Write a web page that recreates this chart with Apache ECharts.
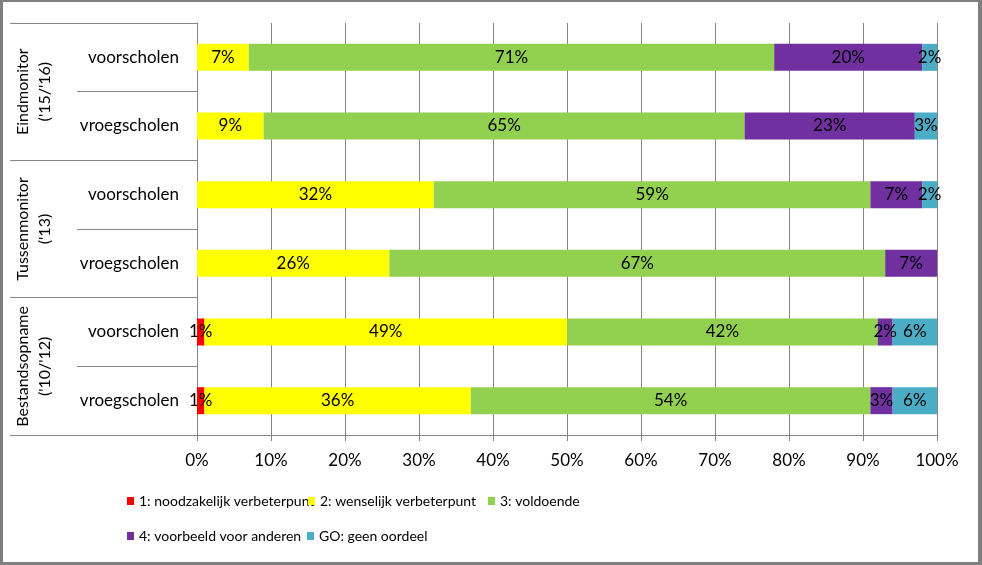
<!DOCTYPE html>
<html><head><meta charset="utf-8">
<script src="https://cdn.jsdelivr.net/npm/echarts@6/dist/echarts.min.js"></script>
<style>
html,body{margin:0;padding:0;background:#fff}
#c{width:982px;height:565px;position:absolute;left:0;top:0}
#b{position:absolute;left:0;top:0;width:982px;height:565px;box-sizing:border-box;border-style:solid;border-color:#7f7f7f;border-width:2px 4px 3px 3px;pointer-events:none}
</style>
</head><body><div id="c"></div><div id="b"></div>
<script>
// ---- data ----
const groups = ["Eindmonitor\n('15/'16)", "Tussenmonitor\n('13)", "Bestandsopname\n('10/'12)"];
const rowLabels = ["voorscholen", "vroegscholen", "voorscholen", "vroegscholen", "voorscholen", "vroegscholen"];
const seriesNames = ["1: noodzakelijk verbeterpunt", "2: wenselijk verbeterpunt", "3: voldoende", "4: voorbeeld voor anderen", "GO: geen oordeel"];
const s1 = [0, 0, 0, 0, 1, 1];
const s2 = [7, 9, 32, 26, 49, 36];
const s3 = [71, 65, 59, 67, 42, 54];
const s4 = [20, 23, 7, 7, 2, 3];
const sGO = [2, 3, 2, 0, 6, 6];
const xTicks = [0, 10, 20, 30, 40, 50, 60, 70, 80, 90, 100];

// ---- style ----
const colors = ['#FF0000', '#FFFF00', '#92D050', '#7030A0', '#4BACC6'];
const FONT = 'Lato';
const GRAY = '#868686';
const legendPos = [[127, 494], [308, 494], [488, 494], [127, 529], [307, 529]];

const seriesData = [s1, s2, s3, s4, sGO];
const chart = echarts.init(document.getElementById('c'), null, {renderer: 'canvas'});

const option = {
  animation: false,
  textStyle: {fontFamily: FONT},
  grid: {left: 197, right: 45, top: 23, bottom: 130, containLabel: false},
  xAxis: {
    type: 'value', min: xTicks[0], max: xTicks[xTicks.length - 1], interval: xTicks[1] - xTicks[0],
    axisLine: {show: true, lineStyle: {color: GRAY}},
    axisTick: {show: true, length: 6, lineStyle: {color: GRAY}},
    splitLine: {show: true, lineStyle: {color: GRAY, width: 1}},
    axisLabel: {formatter: '{value}%', color: '#000', fontSize: 17, fontFamily: FONT, margin: 17}
  },
  yAxis: [
    {
      type: 'category', inverse: true, position: 'left',
      data: rowLabels.map((r, i) => i + '|' + r),
      axisLine: {show: true, lineStyle: {color: GRAY}},
      axisTick: {show: true, length: 120, lineStyle: {color: GRAY}},
      axisLabel: {interval: 0, formatter: v => v.split('|')[1], color: '#000', fontSize: 17, fontFamily: FONT, margin: 18}
    },
    {
      type: 'category', inverse: true, position: 'left', offset: 0,
      data: groups,
      axisLine: {show: false},
      axisTick: {show: true, interval: 0, length: 187, lineStyle: {color: GRAY}},
      axisLabel: {interval: 0, hideOverlap: false, rotate: 90, color: '#000', fontSize: 16, fontFamily: FONT, lineHeight: 22, margin: 141}
    }
  ],
  legend: seriesNames.map((n, i) => ({
    data: [n], left: legendPos[i][0], top: legendPos[i][1], padding: 0,
    icon: 'rect', itemWidth: 7, itemHeight: 8, itemGap: 0,
    textStyle: {fontSize: 14, fontFamily: FONT, color: '#000'}
  })),
  series: seriesNames.map((n, i) => ({
    name: n, type: 'bar', stack: 'total', yAxisIndex: 0,
    barWidth: 27,
    itemStyle: {color: colors[i]},
    label: {
      show: true, position: 'inside', color: '#000', fontSize: 17, fontFamily: FONT,
      formatter: p => p.value ? p.value + '%' : ''
    },
    data: seriesData[i]
  }))
};
chart.setOption(option);
</script>
</body></html>
